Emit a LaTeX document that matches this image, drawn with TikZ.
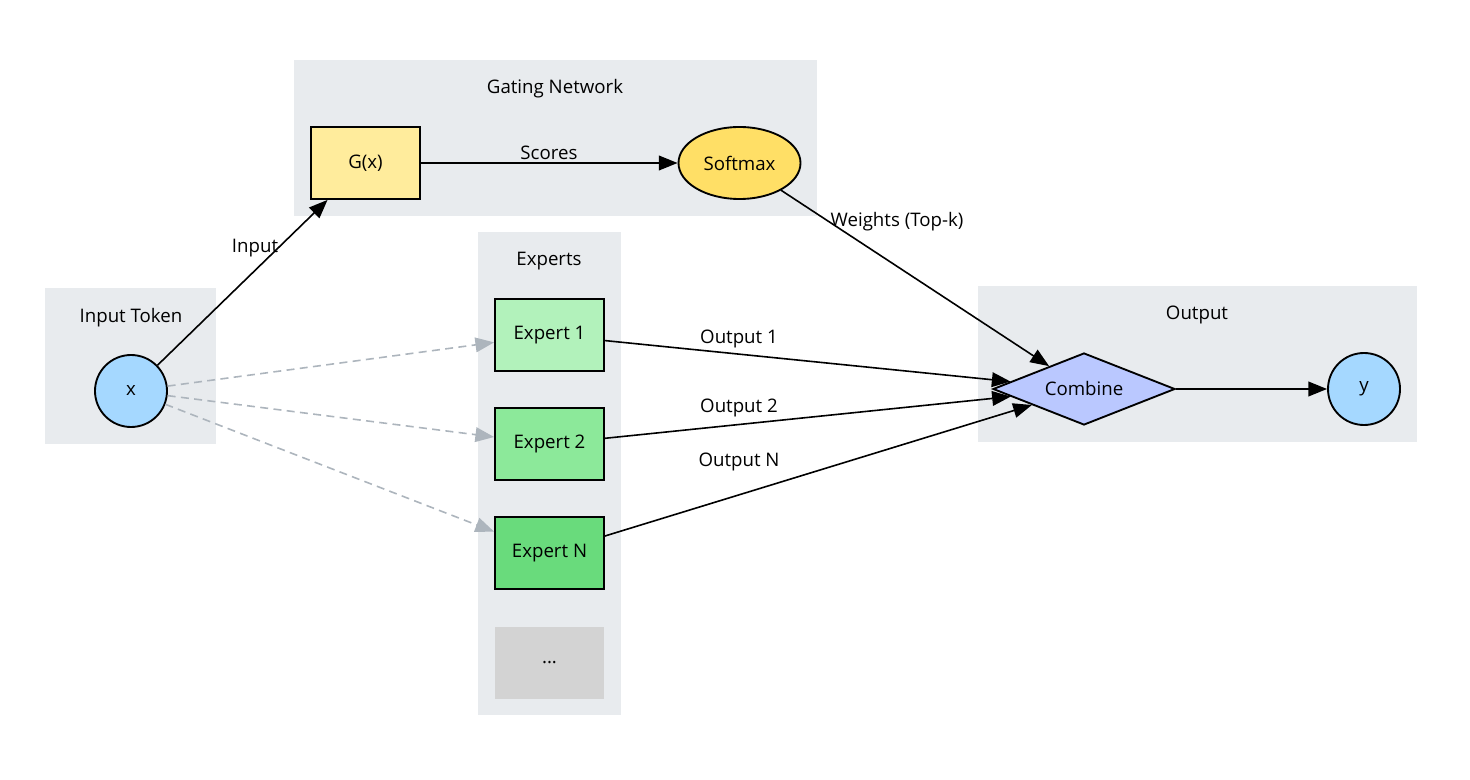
\documentclass[tikz,border=0pt]{standalone}
\usepackage{fontspec}
\setmainfont{Open Sans}
\usetikzlibrary{shapes.geometric,arrows.meta}
\definecolor{clus}{HTML}{E8EBEE}
\definecolor{gbox}{HTML}{FFEC9C}
\definecolor{smax}{HTML}{FFDF66}
\definecolor{eone}{HTML}{B2F2BB}
\definecolor{etwo}{HTML}{8CE99A}
\definecolor{eN}{HTML}{69DB7C}
\definecolor{dots}{HTML}{D3D3D3}
\definecolor{tok}{HTML}{A5D8FF}
\definecolor{comb}{HTML}{BAC8FF}
\definecolor{dgray}{HTML}{ADB5BD}
\tikzset{
  every node/.style={font=\fontsize{14}{17}\selectfont},
  cluster/.style={fill=clus, draw=none},
  boxnode/.style={draw=black, line width=1.4pt, minimum width=81.75pt, minimum height=54pt, inner sep=0pt},
  circnode/.style={circle, draw=black, line width=1.4pt, minimum size=54pt, inner sep=0pt, fill=tok},
  arr/.style={-{Triangle[length=14pt,width=11pt]}, line width=1.2pt, black},
  darr/.style={-{Triangle[length=14pt,width=11pt]}, line width=1.2pt, dgray, dash pattern=on 6pt off 4pt},
  lbl/.style={inner sep=0pt}
}
\begin{document}
\begin{tikzpicture}[x=0.75pt,y=-0.75pt]
\useasboundingbox (0,0) rectangle (1470,780);
% clusters
\fill[cluster] (294,60) rectangle (817,216);
\node[lbl] (gnl) at (555,89) {Gating Network};
\fill[cluster] (45,288) rectangle (216,444);
\node[lbl] (itl) at (131,318) {Input Token};
\fill[cluster] (478,232) rectangle (621,715);
\node[lbl] (exl) at (549,261) {Experts};
\fill[cluster] (978,286) rectangle (1417,442);
\node[lbl] (outl) at (1197,315) {Output};
% nodes
\node[boxnode, fill=gbox] (g) at (365.5,163) {G(x)};
\node[ellipse, draw=black, line width=1.4pt, fill=smax, minimum width=91.5pt, minimum height=54pt, inner sep=0pt] (s) at (739.5,163) {Softmax};
\node[circnode] (x) at (131,391) {x};
\node[boxnode, fill=eone] (e1) at (549.5,335) {Expert 1};
\node[boxnode, fill=etwo] (e2) at (549.5,444) {Expert 2};
\node[boxnode, fill=eN] (en) at (549.5,553) {Expert N};
\node[fill=dots, minimum width=81.75pt, minimum height=54pt, inner sep=0pt] (ed) at (549.5,663) {...};
\node[diamond, draw=black, line width=1.4pt, fill=comb, minimum width=136.5pt, minimum height=54pt, inner sep=0pt, aspect=2.5] (c) at (1084,389) {Combine};
\node[circnode] (y) at (1364,389) {y};
% edges
\draw[arr] (x) -- (g);
\node[lbl] (linput) at (255,248) {Input};
\draw[arr] (g) -- (s);
\node[lbl] (lscores) at (549,153) {Scores};
\draw[arr] (s) -- (c);
\node[lbl] (lw) at (897,222) {Weights (Top-k)};
\draw[darr] (x) -- (e1);
\draw[darr] (x) -- (e2);
\draw[darr] (x) -- (en);
\draw[arr] (e1) -- (c);
\node[lbl] (lo1) at (739,339) {Output 1};
\draw[arr] (e2) -- (c);
\node[lbl] (lo2) at (739,408) {Output 2};
\draw[arr] (en) -- (c);
\node[lbl] (lon) at (739,462) {Output N};
\draw[arr] (c) -- (y);
\end{tikzpicture}
\end{document}
